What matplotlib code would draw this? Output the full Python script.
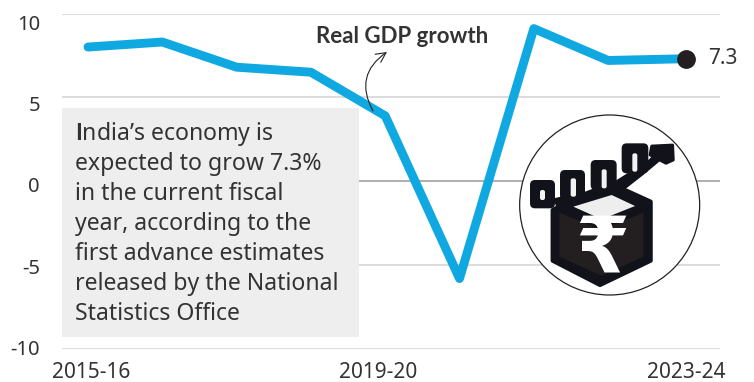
import matplotlib
matplotlib.use("Agg")
import matplotlib.pyplot as plt
from matplotlib.patches import Circle, FancyArrowPatch, FancyBboxPatch, Polygon, Rectangle
from matplotlib.transforms import ScaledTranslation

W, H = 754, 382
TEXT = "#333333"
BLUE = "#10A8E0"
INK = "#11121A"
FONT = "Noto Sans"
BOLD_FONT = "Lato"

years = ["2015-16", "2016-17", "2017-18", "2018-19", "2019-20",
         "2020-21", "2021-22", "2022-23", "2023-24"]
growth = [8.0, 8.3, 6.8, 6.5, 3.9, -5.8, 9.1, 7.2, 7.3]
y_ticks = [10, 5, 0, -5, -10]
x_labelled = ["2015-16", "2019-20", "2023-24"]
note_lines = ["$\\mathbf{I}$ndia’s economy is", "expected to grow 7.3%", "in the current fiscal",
              "year, according to the", "first advance estimates", "released by the National",
              "Statistics Office"]

plt.rcParams["font.family"] = [FONT, "DejaVu Sans"]
plt.rcParams["mathtext.fontset"] = "custom"
plt.rcParams["mathtext.rm"] = FONT
plt.rcParams["mathtext.bf"] = f"{BOLD_FONT}:bold"
fig = plt.figure(figsize=(W / 100, H / 100), dpi=100)

# Data axes: the y range spans the top and bottom rules, x is year index
left, right, top, bottom = 62, 720, 13.5, 349
step = 74.3
ax = fig.add_axes([left / W, 1 - bottom / H, (right - left) / W, (bottom - top) / H])
ax.set_ylim(-10, 10)
ax.set_xlim((left - 88) / step, (right - 88) / step)
ax.patch.set_alpha(0)
for s in ax.spines.values():
    s.set_visible(False)
ax.tick_params(length=0)
ax.set_xticks([])
ax.set_yticks([])
for v in y_ticks:
    ax.axhline(v, color="#999999" if v == 0 else "#D2D2D2", lw=1.1, zorder=1)

# Overlay in pixel coordinates for the annotation box, labels and emblem
ov = fig.add_axes([0, 0, 1, 1])
ov.set_xlim(0, W)
ov.set_ylim(H, 0)
ov.axis("off")
ov.set_zorder(2)

ov.add_patch(Rectangle((62, 108), 297, 229, fc="#EEEEEE", ec="none", zorder=2))

# Growth line sits in its own transparent axes above the note box
ln = fig.add_axes(ax.get_position())
ln.set_xlim(ax.get_xlim())
ln.set_ylim(ax.get_ylim())
ln.axis("off")
ln.set_zorder(4)
xs = list(range(len(years)))
ln.plot(xs, growth, color=BLUE, lw=6.4, solid_capstyle="round", solid_joinstyle="round", zorder=3)
# End marker sits just right of the line's last vertex
nudge = ScaledTranslation(4 / 100, 0, fig.dpi_scale_trans)
ln.plot(xs[-1], growth[-1], "o", ms=12.5, mfc="#231F20", mec="#231F20", zorder=5,
        transform=ln.transData + nudge)

# Tick labels
for v, yp in zip(y_ticks, [30, 111, 192.5, 273.5, 355]):
    ov.text(40, yp, str(v), ha="right", va="baseline", fontsize=14.5, color=TEXT, zorder=6)
for lab, xp in zip(x_labelled, [91, 378, 686]):
    ov.text(xp, 378, lab, ha="center", va="baseline", fontsize=15, color=TEXT, zorder=6)
ov.text(722.5, 64, "7.3", ha="center", va="baseline", fontsize=15, color=TEXT, zorder=6)

# Note text
for i, line in enumerate(note_lines):
    ov.text(75, 140 + i * 30, line, ha="left", va="baseline", fontsize=16.6, color=TEXT, zorder=6)

# Series label with a curved pointer
ov.text(402, 43, "Real GDP growth", ha="center", va="baseline", fontsize=16, fontweight="bold",
        family=BOLD_FONT, color=TEXT, zorder=6)
top_ax = fig.add_axes([0, 0, 1, 1])
top_ax.set_xlim(0, W)
top_ax.set_ylim(H, 0)
top_ax.axis("off")
top_ax.set_zorder(5)
top_ax.add_patch(FancyArrowPatch((373, 111), (387, 52), connectionstyle="arc3,rad=-0.45",
                                 arrowstyle="->,head_length=7,head_width=3.5", lw=0.8,
                                 color="#222222", zorder=6, shrinkA=0, shrinkB=0))


def z(x, y):
    """Emblem outline points, drawn on a 3x grid anchored at (500, 110)."""
    return (500 + x / 3, 110 + y / 3)


def poly(pts, color, zorder=8, round_px=0.0):
    top_ax.add_patch(Polygon([z(*p) for p in pts], closed=True, fc=color,
                             ec=color if round_px else "none", lw=round_px,
                             joinstyle="round", zorder=zorder))


def rbar(x0, y0, x1, y1, color, rad, zorder=8):
    a = z(x0, y0)
    b = z(x1, y1)
    top_ax.add_patch(FancyBboxPatch((a[0] + rad, a[1] + rad), b[0] - a[0] - 2 * rad, b[1] - a[1] - 2 * rad,
                                    boxstyle=f"round,pad={rad}", fc=color, ec="none", zorder=zorder))


# Emblem: circle, box, rising bars and rupee sign
cx, cy = z(329, 285)
top_ax.add_patch(Circle((cx, cy), 90, fc="white", ec="#222222", lw=0.9, zorder=7))
poly([(375, 240), (452, 275), (452, 452), (300, 525), (158, 452), (158, 300), (230, 262)], INK, round_px=3)
poly([(178, 308), (305, 360), (430, 308), (430, 440), (305, 497), (178, 440)], "#231F20", zorder=9)
poly([(220, 290), (335, 255), (405, 288), (305, 328)], "#EEEEEE", zorder=9)
for x0, y0, x1, y1 in [(90, 210, 165, 295), (180, 180, 255, 270), (272, 150, 350, 240), (365, 100, 445, 190)]:
    rbar(x0, y0, x1, y1, INK, 5)
for x0, y0, x1, y1 in [(120, 240, 135, 270), (212, 205, 228, 260), (305, 178, 320, 235), (397, 130, 412, 185)]:
    rbar(x0, y0, x1, y1, "#F2F2F2", 2, zorder=9)
poly([(160, 265), (255, 245), (350, 210), (445, 150), (470, 125), (490, 145), (430, 195), (375, 238),
      (300, 262), (170, 295)], INK)
poly([(455, 108), (518, 105), (520, 150), (498, 160), (450, 135)], INK, round_px=2)
top_ax.text(*z(306, 420), "₹", ha="center", va="center", family="DejaVu Sans", fontweight="bold",
            fontsize=56, color="white", zorder=10)

fig.savefig("out.png", dpi=100)
